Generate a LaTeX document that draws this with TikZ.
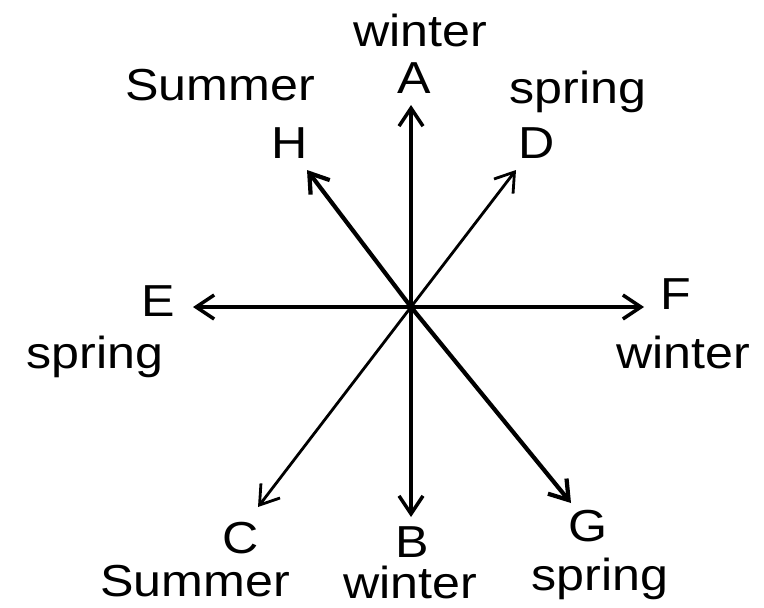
\documentclass[tikz,border=0pt]{standalone}
\usepackage{fontspec}
\setmainfont{Liberation Sans}
\usetikzlibrary{arrows.meta}
\begin{document}
\begin{tikzpicture}[every node/.style={font=\fontsize{25.5}{28}\selectfont,xscale=1.12,inner sep=0pt},arr/.style={-{Straight Barb[length=0.36cm,width=0.48cm]}}]
  \useasboundingbox (0,0) rectangle (15.28,12.14);
  \coordinate (o) at (8.22,6.0);
  \coordinate (ta) at (8.22,10.04);
  \coordinate (tb) at (8.22,1.80);
  \coordinate (te) at (3.86,6.0);
  \coordinate (tf) at (12.88,6.0);
  \coordinate (th) at (6.14,8.74);
  \coordinate (td) at (10.32,8.74);
  \coordinate (tc) at (5.16,2.0);
  \coordinate (tg) at (11.42,2.08);
  % letters
  \node (a) at (8.28,10.58) {A};
  \node (h) at (5.80,9.28) {H};
  \node (d) at (10.74,9.28) {D};
  \node (e) at (3.16,6.12) {E};
  \node (f) at (13.52,6.26) {F};
  \node (c) at (4.82,1.38) {C};
  \node (b) at (8.24,1.30) {B};
  \node (g) at (11.76,1.62) {G};
  % seasons
  \node (sa) at (8.40,11.54) {winter};
  \node (sh) at (4.40,10.44) {Summer};
  \node (sd) at (11.56,10.30) {spring};
  \node (se) at (1.90,5.00) {spring};
  \node (sf) at (13.66,5.10) {winter};
  \node (sc) at (3.90,0.52) {Summer};
  \node (sb) at (8.20,0.50) {winter};
  \node (sg) at (12.00,0.56) {spring};
  \foreach \t/\w in {ta/2pt,tb/2pt,te/2pt,tf/2pt,th/2.4pt,tg/2.4pt,td/1.6pt,tc/1.6pt}{\draw[arr,line width=\w] (o) -- (\t);}
\end{tikzpicture}
\end{document}
